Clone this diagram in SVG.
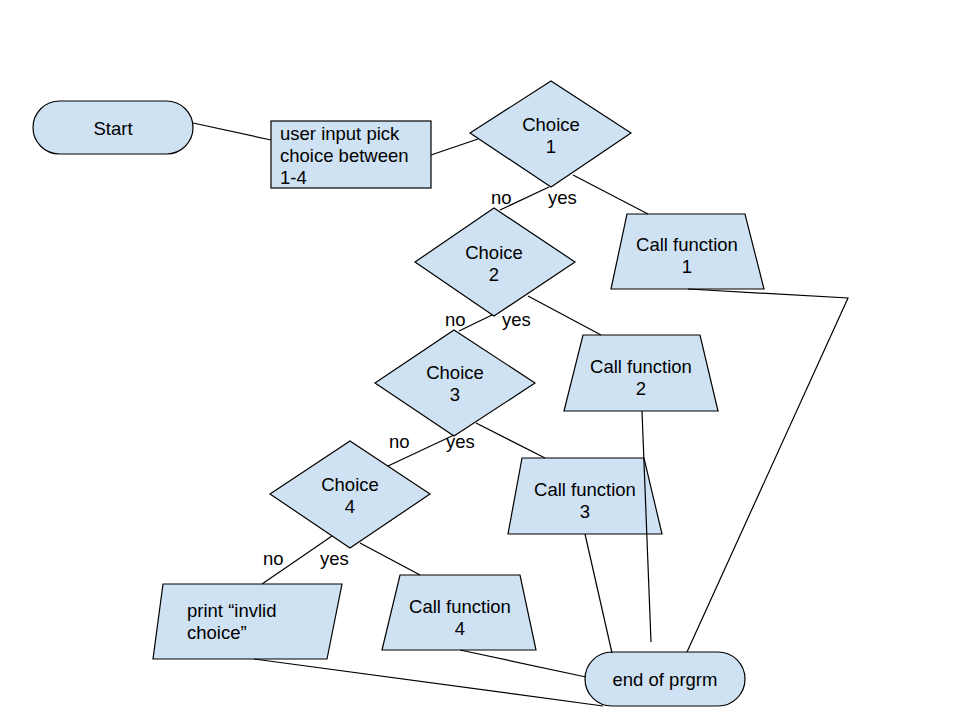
<svg xmlns="http://www.w3.org/2000/svg" width="960" height="720" viewBox="0 0 960 720">
<style>
.s{fill:#cfe2f3;stroke:#000;stroke-width:1.2}
.t{font-family:"Liberation Sans",Arial,sans-serif;font-size:18.5px;fill:#000}
.c{text-anchor:middle}
.l{fill:none;stroke:#000;stroke-width:1.2}
</style>
<rect width="960" height="720" fill="#fff"/>
<g id="start">
<rect class="s" x="33" y="101" width="160" height="53" rx="26.5"/>
<text class="t c" x="113" y="135">Start</text>
</g>
<g id="input">
<rect class="s" x="271" y="121" width="160" height="67"/>
<text class="t" x="280" y="140">user input pick</text>
<text class="t" x="280" y="162">choice between</text>
<text class="t" x="280" y="184">1-4</text>
</g>
<g id="choice1">
<polygon class="s" points="470,133 551,81 631,133 551,187"/>
<text class="t c" x="551" y="131">Choice</text>
<text class="t c" x="551" y="153">1</text>
</g>
<g id="choice2">
<polygon class="s" points="415,262 494,208 575,262 494,316"/>
<text class="t c" x="494" y="259">Choice</text>
<text class="t c" x="494" y="281">2</text>
</g>
<g id="choice3">
<polygon class="s" points="375,383 454,330 535,383 454,436"/>
<text class="t c" x="455" y="379">Choice</text>
<text class="t c" x="455" y="401">3</text>
</g>
<g id="choice4">
<polygon class="s" points="270,494 350,441 430,494 350,548"/>
<text class="t c" x="350" y="491">Choice</text>
<text class="t c" x="350" y="513">4</text>
</g>
<g id="call1">
<polygon class="s" points="627,214 745,214 764,289 611,289"/>
<text class="t c" x="687" y="251">Call function</text>
<text class="t c" x="687" y="273">1</text>
</g>
<g id="call2">
<polygon class="s" points="583,335 700,335 718,411 564,411"/>
<text class="t c" x="641" y="373">Call function</text>
<text class="t c" x="641" y="395">2</text>
</g>
<g id="call3">
<polygon class="s" points="522,458 644,458 662,534 508,534"/>
<text class="t c" x="585" y="496">Call function</text>
<text class="t c" x="585" y="518">3</text>
</g>
<g id="call4">
<polygon class="s" points="400,575 520,575 536,650 382,650"/>
<text class="t c" x="460" y="613">Call function</text>
<text class="t c" x="460" y="635">4</text>
</g>
<g id="print">
<polygon class="s" points="163,584 342,584 327,659 153,659"/>
<text class="t" x="187" y="617">print “invlid</text>
<text class="t" x="187" y="639">choice”</text>
</g>
<g id="end">
<rect class="s" x="585" y="652" width="160" height="54" rx="27"/>
<text class="t c" x="665" y="686">end of prgrm</text>
</g>
<g id="connectors">
<path class="l" d="M193,123 L271,140"/>
<path class="l" d="M431,155 L478,139"/>
<path class="l" d="M549,187 L500,210"/>
<path class="l" d="M573,175 L648,214"/>
<path class="l" d="M492,315 L459,331"/>
<path class="l" d="M528,296 L601,335"/>
<path class="l" d="M454,435 L388,466"/>
<path class="l" d="M476,423 L545,458"/>
<path class="l" d="M332,536 L262,584"/>
<path class="l" d="M360,543 L420,575"/>
<path class="l" d="M688,289 L848,298 L687,652"/>
<path class="l" d="M642,411 L651,642"/>
<path class="l" d="M585,534 L612,653"/>
<path class="l" d="M460,650 L586,677"/>
<path class="l" d="M254,659 L603,706"/>
<text class="t" x="491" y="204">no</text>
<text class="t" x="548" y="204">yes</text>
<text class="t" x="445" y="326">no</text>
<text class="t" x="502" y="326">yes</text>
<text class="t" x="389" y="448">no</text>
<text class="t" x="446" y="448">yes</text>
<text class="t" x="263" y="565">no</text>
<text class="t" x="320" y="565">yes</text>
</g>
</svg>
